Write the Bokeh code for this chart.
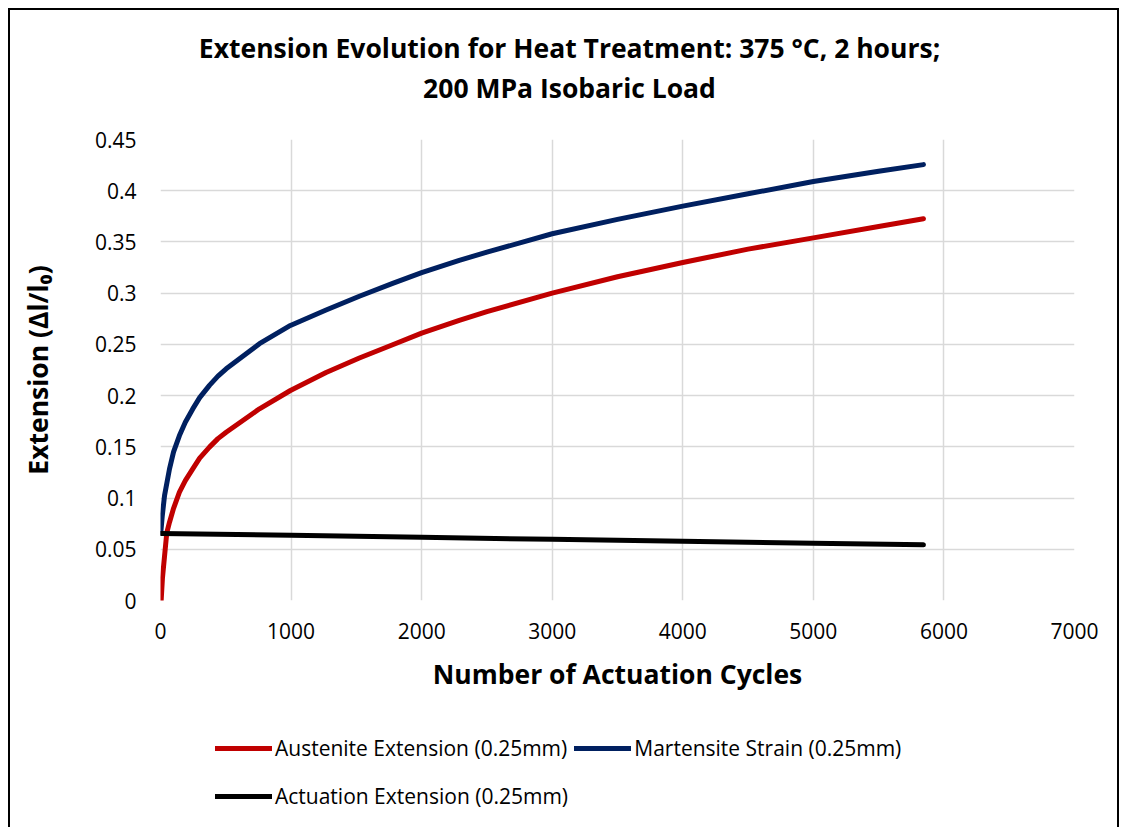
from bokeh.plotting import figure
from bokeh.layouts import column
from bokeh.models import Range1d, FixedTicker, Legend, LegendItem, Label
from bokeh.embed import file_html
from bokeh.resources import INLINE

# ---------------- data ----------------
aus_cycles = [5, 15, 30, 48, 69, 100, 145, 190, 247, 300, 375, 440, 503, 758, 995, 1268,
              1523, 1778, 2000, 2288, 2500, 3000, 3500, 4000, 4500, 5000, 5500, 5843]
aus_ext = [0.0, 0.022, 0.042, 0.066, 0.0764, 0.090, 0.1057, 0.117, 0.1285, 0.139,
           0.1497, 0.158, 0.1643, 0.1871, 0.205, 0.2225, 0.2367, 0.2497, 0.261, 0.2735,
           0.282, 0.300, 0.316, 0.330, 0.343, 0.354, 0.365, 0.3726]

mar_cycles = [2, 13, 31, 69, 100, 145, 190, 247, 300, 375, 440, 503, 758, 995, 1268,
              1523, 1778, 2000, 2288, 2500, 3000, 3500, 4000, 4500, 5000, 5500, 5843]
mar_strain = [0.066, 0.082, 0.1025, 0.1285, 0.145, 0.161, 0.174, 0.187, 0.198, 0.210,
              0.219, 0.2262, 0.2507, 0.2685, 0.2835, 0.297, 0.3095, 0.320, 0.332, 0.340,
              0.358, 0.372, 0.385, 0.397, 0.409, 0.419, 0.4255]

act_cycles = [0, 1000, 2000, 3000, 4000, 5000, 5843]
act_ext = [0.0655, 0.0637, 0.0617, 0.0597, 0.0578, 0.0560, 0.0543]

x_ticks = [0, 1000, 2000, 3000, 4000, 5000, 6000, 7000]
x_tick_labels = ["0", "1000", "2000", "3000", "4000", "5000", "6000", "7000"]
y_ticks = [0, 0.05, 0.1, 0.15, 0.2, 0.25, 0.3, 0.35, 0.4, 0.45]
y_tick_labels = ["0", "0.05", "0.1", "0.15", "0.2", "0.25", "0.3", "0.35", "0.4", "0.45"]

series_names = ["Austenite Extension (0.25mm)", "Martensite Strain (0.25mm)",
                "Actuation Extension (0.25mm)"]
series_colors = ["#C00000", "#002060", "#000000"]

title_lines = ["Extension Evolution for Heat Treatment: 375 °C, 2 hours;",
               "200 MPa Isobaric Load"]
x_title = "Number of Actuation Cycles"
y_title = "Extension (Δl/l₀)"

FONT = "Open Sans"
LEFT, FRAME_W = 160, 914   # the strips' frames align with the main plot frame

# ---------------- title strip ----------------
TH = 119
pt = figure(width=1122, height=TH, output_backend="svg", toolbar_location=None,
            x_range=Range1d(LEFT, LEFT + FRAME_W), y_range=Range1d(TH, 0),
            x_axis_type=None, y_axis_type=None, min_border=0)
pt.outline_line_color = None
pt.background_fill_color = None
pt.border_fill_color = None
pt.grid.visible = False
for txt, yy in zip(title_lines, [47, 87]):
    pt.add_layout(Label(x=569, y=yy, text=txt, text_align="center",
                        text_baseline="middle", text_font=FONT,
                        text_font_size="26.5px", text_font_style="bold",
                        text_color="#000000"))

# ---------------- main plot ----------------
p = figure(frame_width=FRAME_W, frame_height=461, output_backend="svg", toolbar_location=None,
           x_range=Range1d(0, 7000), y_range=Range1d(0, 0.45),
           min_border_left=LEFT, min_border_right=48, min_border_top=20,
           min_border_bottom=100)
p.outline_line_color = None
p.background_fill_color = "white"
p.border_fill_color = None

for ax in (p.xaxis[0], p.yaxis[0]):
    ax.axis_line_color = None
    ax.major_tick_line_color = None
    ax.minor_tick_line_color = None
    ax.major_label_text_font = FONT
    ax.major_label_text_font_size = "21px"
    ax.major_label_text_color = "#000000"
    ax.axis_label_text_font = FONT
    ax.axis_label_text_font_size = "26.5px"
    ax.axis_label_text_font_style = "bold"
    ax.axis_label_text_color = "#000000"

p.xaxis.ticker = FixedTicker(ticks=x_ticks)
p.yaxis.ticker = FixedTicker(ticks=y_ticks)
p.xaxis.major_label_overrides = dict(zip(x_ticks, x_tick_labels))
p.yaxis.major_label_overrides = dict(zip(y_ticks, y_tick_labels))
p.xaxis.major_label_standoff = 16
p.yaxis.major_label_standoff = 18
p.xaxis.axis_label = x_title
p.yaxis.axis_label = y_title
p.xaxis.axis_label_standoff = 14
p.yaxis.axis_label_standoff = 36

p.xgrid.grid_line_color = "#D9D9D9"
p.ygrid.grid_line_color = "#D9D9D9"
p.xgrid.grid_line_width = 1.5
p.ygrid.grid_line_width = 1.5

p.line(aus_cycles, aus_ext, line_color=series_colors[0], line_width=5, line_cap="round", line_join="round")
p.line(mar_cycles, mar_strain, line_color=series_colors[1], line_width=5, line_cap="round", line_join="round")
p.line(act_cycles, act_ext, line_color=series_colors[2], line_width=5, line_cap="round", line_join="round")

# ---------------- legend strip ----------------
LH = 127
pl = figure(width=1122, height=LH, output_backend="svg", toolbar_location=None,
            x_range=Range1d(0, 1), y_range=Range1d(0, 1),
            x_axis_type=None, y_axis_type=None, min_border=0)
pl.outline_line_color = None
pl.background_fill_color = None
pl.border_fill_color = None
pl.grid.visible = False
# legend keys: single-point lines (nothing drawn in the strip itself)
firsts = [(aus_cycles[0], aus_ext[0]), (mar_cycles[0], mar_strain[0]), (act_cycles[0], act_ext[0])]
key = [pl.line([fx], [fy], line_color=c, line_width=5, line_cap="round")
       for (fx, fy), c in zip(firsts, series_colors)]

def make_legend(items, loc):
    return Legend(items=items, location=loc, orientation="horizontal",
                  padding=0, margin=0, spacing=7, border_line_color=None,
                  background_fill_alpha=0, glyph_width=57, glyph_height=28,
                  label_standoff=3, label_width=0, label_height=28,
                  label_text_font=FONT, label_text_font_size="21px",
                  label_text_color="#000000")

pl.add_layout(make_legend([LegendItem(label=series_names[0], renderers=[key[0]]),
                           LegendItem(label=series_names[1], renderers=[key[1]])],
                          (215 - LEFT, 65)))
pl.add_layout(make_legend([LegendItem(label=series_names[2], renderers=[key[2]])],
                          (215 - LEFT, 17)))

border_bg = ("linear-gradient(#000,#000) 8px 8px / 2px 100% no-repeat, "
             "linear-gradient(#000,#000) 8px 8px / 1110px 2px no-repeat, "
             "linear-gradient(#000,#000) 1117px 8px / 2px 100% no-repeat, #ffffff")
layout = column(pt, p, pl, spacing=0, styles={"background": border_bg})

open("out.html", "w").write(file_html(layout, INLINE))
